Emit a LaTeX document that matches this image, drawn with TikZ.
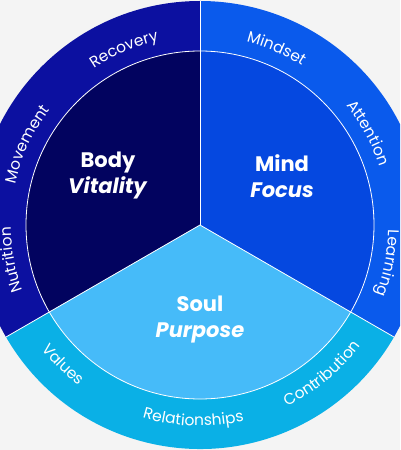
\documentclass[tikz,border=0pt]{standalone}
\usepackage{fontspec}
\setmainfont{Poppins}
\usetikzlibrary{decorations.text}

\definecolor{bgGray}{HTML}{F4F4F4}
\definecolor{bodyRing}{HTML}{0C10A0}
\definecolor{bodyCore}{HTML}{02035F}
\definecolor{mindRing}{HTML}{0A5AEC}
\definecolor{mindCore}{HTML}{0548E0}
\definecolor{soulRing}{HTML}{0AB0E6}
\definecolor{soulCore}{HTML}{46BBF9}

\newcommand{\ringfont}{\fontsize{15.5}{16}\selectfont}

\begin{document}
\begin{tikzpicture}[x=1pt,y=1pt,
    divider/.style={white,line width=0.8pt},
    core/.style={white,font=\fontsize{21}{26}\selectfont\bfseries,align=center},
    ringword/.style={decorate,decoration={text along path,text align=center,
        text color=white,text/.expanded={|\noexpand\ringfont|#1}}}]
  \useasboundingbox (0,0) rectangle (400,450);
  \clip (0,0) rectangle (400,450);
  \fill[bgGray] (0,0) rectangle (400,450);

  \begin{scope}[shift={(200,225)}]
    \coordinate (c) at (0,0);
    % outer ring
    \fill[bodyRing] (c) -- (90:224) arc[start angle=90,end angle=210,radius=224] -- cycle;
    \fill[mindRing] (c) -- (-30:224) arc[start angle=-30,end angle=90,radius=224] -- cycle;
    \fill[soulRing] (c) -- (210:224) arc[start angle=210,end angle=330,radius=224] -- cycle;
    % inner sectors
    \fill[bodyCore] (c) -- (90:174) arc[start angle=90,end angle=210,radius=174] -- cycle;
    \fill[mindCore] (c) -- (-30:174) arc[start angle=-30,end angle=90,radius=174] -- cycle;
    \fill[soulCore] (c) -- (210:174) arc[start angle=210,end angle=330,radius=174] -- cycle;

    \draw[divider] (c) circle[radius=174];
    \coordinate (top) at (90:224);
    \coordinate (left) at (210:224);
    \coordinate (right) at (-30:224);
    \draw[divider] (c) -- (top);
    \draw[divider] (c) -- (left);
    \draw[divider] (c) -- (right);

    % ring labels, upper half read clockwise
    \foreach \ang/\word in {113.4/Recovery,155/Movement,190.5/Nutrition,
                            66.6/Mindset,28.7/Attention,-11.5/Learning}
      \path[ringword=\word] (\ang+40:189) arc[start angle=\ang+40,end angle=\ang-40,radius=189];
    % ring labels, lower part read counterclockwise
    \foreach \ang/\word in {225.6/Values,268/Relationships,309.4/Contribution}
      \path[ringword=\word] (\ang-40:201) arc[start angle=\ang-40,end angle=\ang+40,radius=201];

    \node[core] (body) at (-92,49) {Body\\\textit{Vitality}};
    \node[core] (mind) at (82,49) {Mind\\\textit{Focus}};
    \node[core] (soul) at (0,-95) {Soul\\\textit{Purpose}};
  \end{scope}
\end{tikzpicture}
\end{document}
